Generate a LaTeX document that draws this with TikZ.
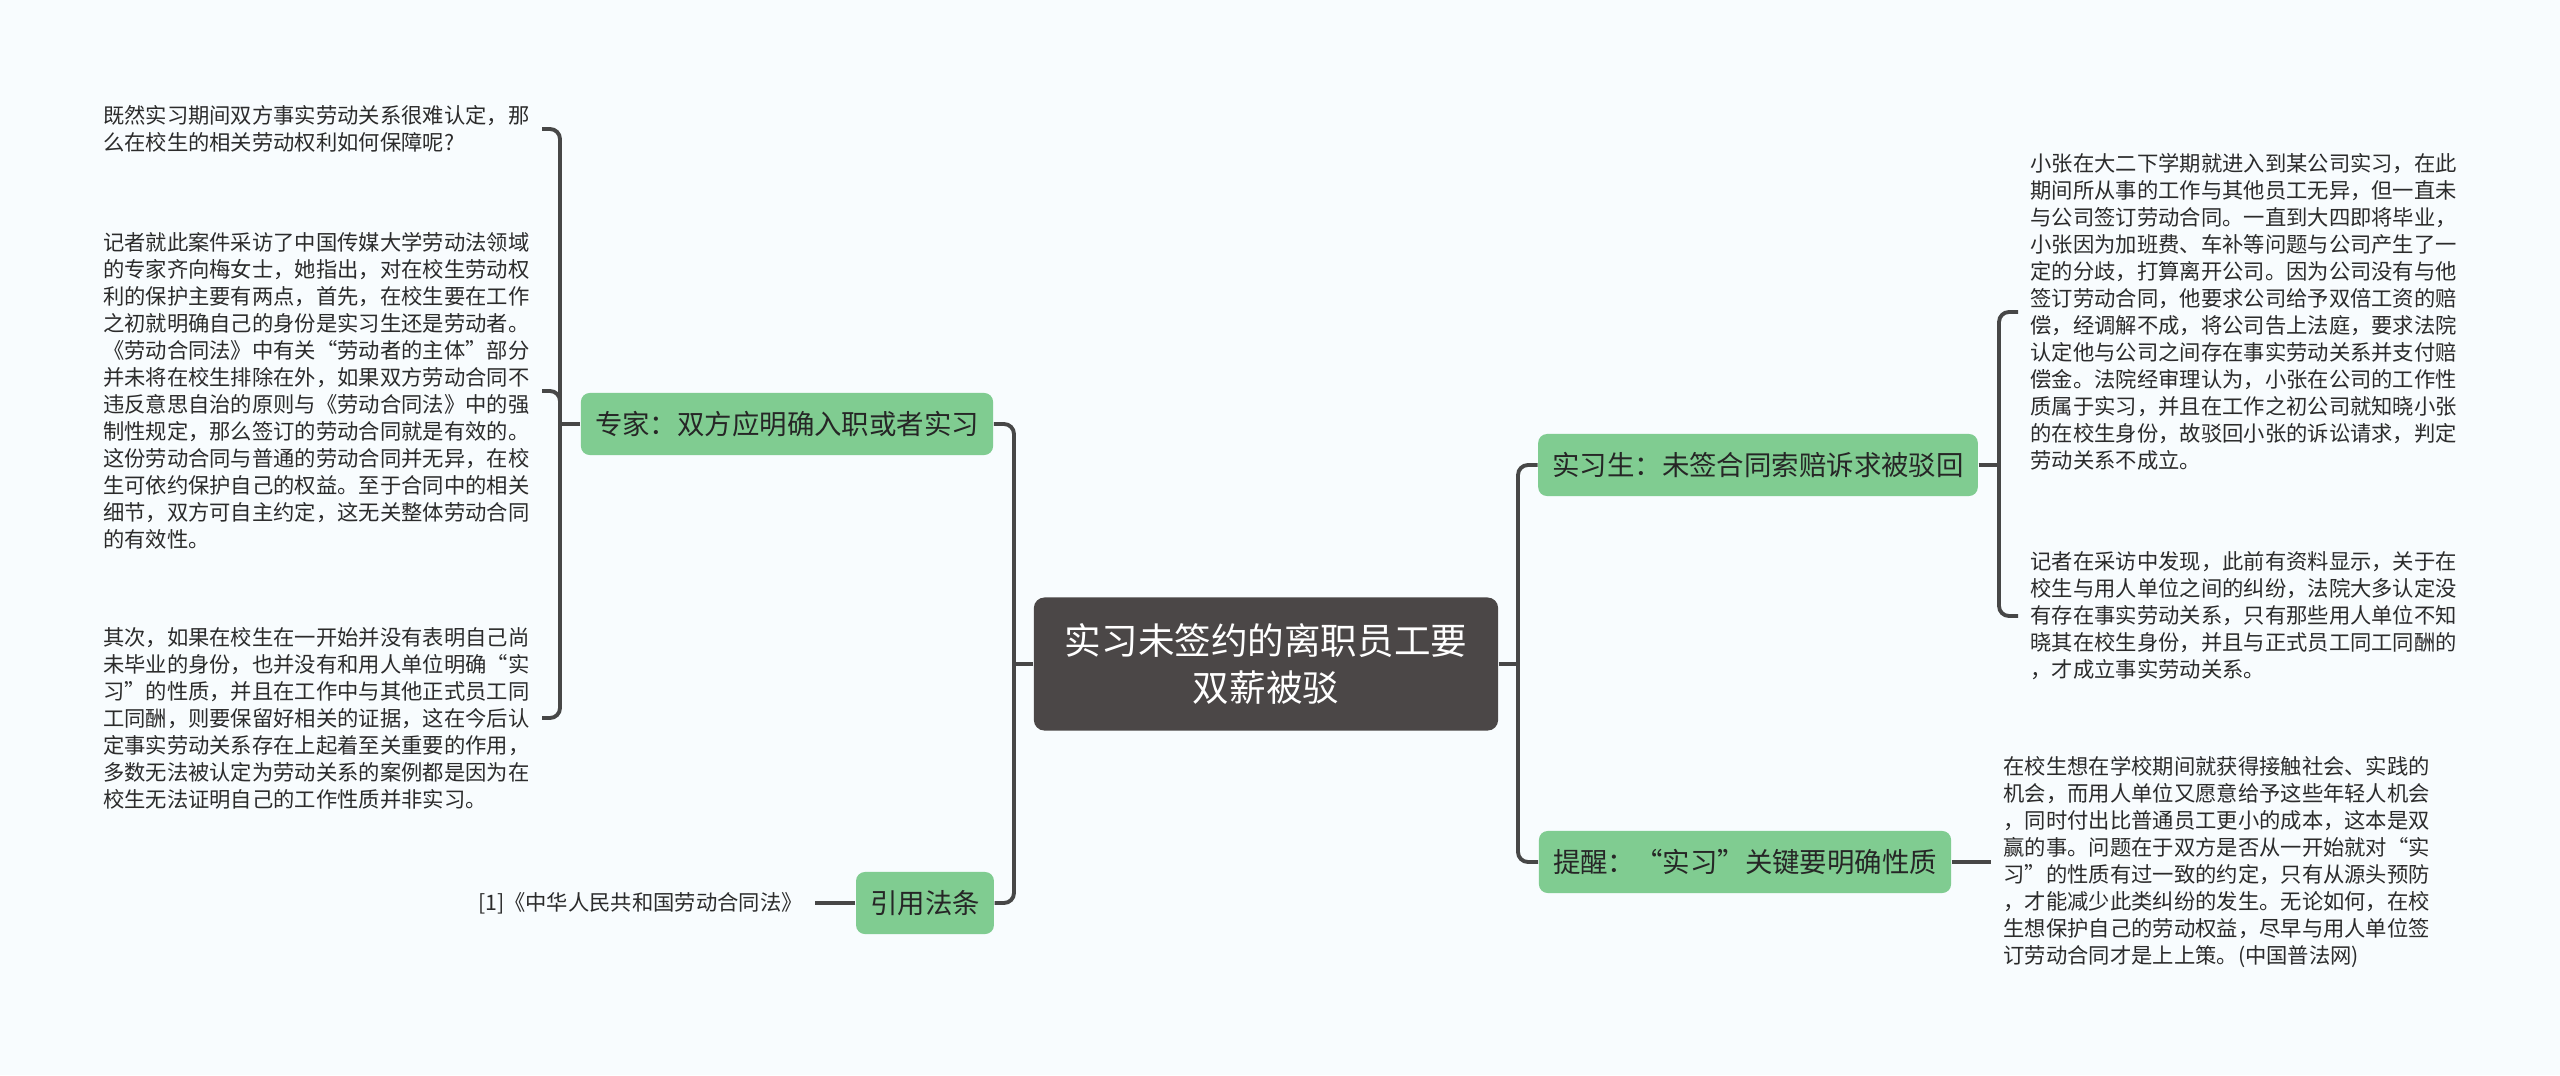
\documentclass[tikz,border=0pt]{standalone}
\usepackage{fontspec}
\setmainfont{Noto Sans CJK SC}
\usepackage{xcolor}
\usepackage{tikz}
\usetikzlibrary{positioning}

\definecolor{canvas}{HTML}{F8FCFE}
\definecolor{rootfill}{HTML}{4B4747}
\definecolor{topicfill}{HTML}{80CC91}
\definecolor{linkgray}{HTML}{474747}
\definecolor{leaftext}{HTML}{2B2B2B}

\begin{document}
\begin{tikzpicture}[
    x=0.01cm,y=-0.01cm,
    link/.style={draw=linkgray,line width=1.1pt},
    elbow/.style={link,rounded corners=0.1cm},
    root/.style={fill=rootfill,text=white,rounded corners=3pt,
      minimum width=4.64cm,minimum height=1.33cm,align=center,
      font=\fontsize{10.4pt}{13.3pt}\selectfont},
    topic/.style={fill=topicfill,text=black!85,rounded corners=2.5pt,
      inner xsep=4pt,minimum height=0.62cm,
      font=\fontsize{7.8pt}{9pt}\selectfont},
    leaf/.style={inner xsep=3.4pt,inner ysep=0pt,align=left,text=leaftext,
      font=\fontsize{6.06pt}{7.68pt}\selectfont}
  ]
    \fill[canvas] (0,0) rectangle (2560,1075);

    % centre and main topics
    \node[root] (title) at (1266,664) {实习未签约的离职员工要\\双薪被驳};
    \node[topic] (expert) at (787,424) {专家：双方应明确入职或者实习};
    \node[topic] (law) at (925,903) {引用法条};
    \node[topic] (intern) at (1758,465) {实习生：未签合同索赔诉求被驳回};
    \node[topic] (remind) at (1745,862) {提醒：“实习”关键要明确性质};

    % left leaves
    \node[leaf,anchor=east] (askrights) at (542,129) {既然实习期间双方事实劳动关系很难认定，那\\么在校生的相关劳动权利如何保障呢?};
    \node[leaf,anchor=east] (firstpoint) at (542,391) {记者就此案件采访了中国传媒大学劳动法领域\\的专家齐向梅女士，她指出，对在校生劳动权\\利的保护主要有两点，首先，在校生要在工作\\之初就明确自己的身份是实习生还是劳动者。\\《劳动合同法》中有关“劳动者的主体”部分\\并未将在校生排除在外，如果双方劳动合同不\\违反意思自治的原则与《劳动合同法》中的强\\制性规定，那么签订的劳动合同就是有效的。\\这份劳动合同与普通的劳动合同并无异，在校\\生可依约保护自己的权益。至于合同中的相关\\细节，双方可自主约定，这无关整体劳动合同\\的有效性。};
    \node[leaf,anchor=east] (secondpoint) at (542,718) {其次，如果在校生在一开始并没有表明自己尚\\未毕业的身份，也并没有和用人单位明确“实\\习”的性质，并且在工作中与其他正式员工同\\工同酬，则要保留好相关的证据，这在今后认\\定事实劳动关系存在上起着至关重要的作用，\\多数无法被认定为劳动关系的案例都是因为在\\校生无法证明自己的工作性质并非实习。};
    \node[leaf,left=0.4cm of law] (cite) {[1]《中华人民共和国劳动合同法》};

    % right leaves
    \node[leaf,anchor=west] (casestory) at (2018,312) {小张在大二下学期就进入到某公司实习，在此\\期间所从事的工作与其他员工无异，但一直未\\与公司签订劳动合同。一直到大四即将毕业，\\小张因为加班费、车补等问题与公司产生了一\\定的分歧，打算离开公司。因为公司没有与他\\签订劳动合同，他要求公司给予双倍工资的赔\\偿，经调解不成，将公司告上法庭，要求法院\\认定他与公司之间存在事实劳动关系并支付赔\\偿金。法院经审理认为，小张在公司的工作性\\质属于实习，并且在工作之初公司就知晓小张\\的在校生身份，故驳回小张的诉讼请求，判定\\劳动关系不成立。};
    \node[leaf,anchor=west] (courtview) at (2018,616) {记者在采访中发现，此前有资料显示，关于在\\校生与用人单位之间的纠纷，法院大多认定没\\有存在事实劳动关系，只有那些用人单位不知\\晓其在校生身份，并且与正式员工同工同酬的\\，才成立事实劳动关系。};
    \node[leaf,anchor=west] (advice) at (1991,862) {在校生想在学校期间就获得接触社会、实践的\\机会，而用人单位又愿意给予这些年轻人机会\\，同时付出比普通员工更小的成本，这本是双\\赢的事。问题在于双方是否从一开始就对“实\\习”的性质有过一致的约定，只有从源头预防\\，才能减少此类纠纷的发生。无论如何，在校\\生想保护自己的劳动权益，尽早与用人单位签\\订劳动合同才是上上策。(中国普法网)};

    % forks
    \coordinate (forkleft) at (1014,664);
    \coordinate (forkright) at (1518,664);
    \coordinate (expertfork) at (560,424);
    \coordinate (internfork) at (1999,465);

    % connectors
    \draw[link] (title.west) -- (forkleft);
    \draw[elbow] (forkleft) |- (expert.east);
    \draw[elbow] (forkleft) |- (law.east);
    \draw[link] (title.east) -- (forkright);
    \draw[elbow] (forkright) |- (intern.west);
    \draw[elbow] (forkright) |- (remind.west);
    \draw[link] (expert.west) -- (expertfork);
    \draw[elbow] (expertfork) |- (askrights.east);
    \draw[elbow] (expertfork) |- (firstpoint.east);
    \draw[elbow] (expertfork) |- (secondpoint.east);
    \draw[link] (law.west) -- (cite.east);
    \draw[link] (intern.east) -- (internfork);
    \draw[elbow] (internfork) |- (casestory.west);
    \draw[elbow] (internfork) |- (courtview.west);
    \draw[link] (remind.east) -- (advice.west);
  \end{tikzpicture}
\end{document}
